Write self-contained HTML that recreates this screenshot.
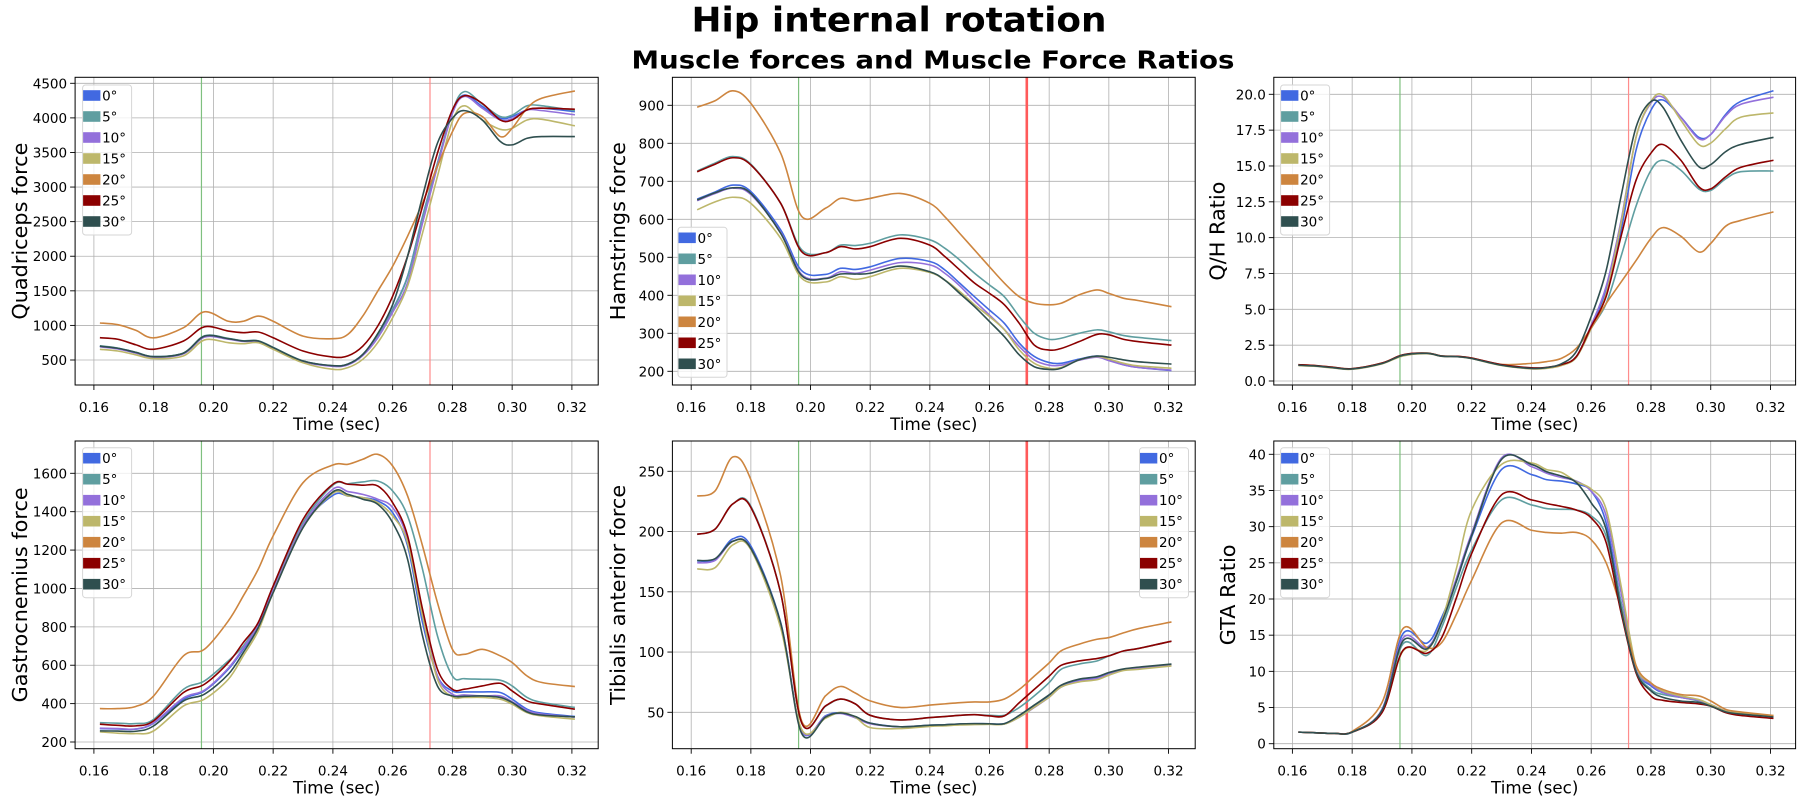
<!DOCTYPE html>
<html><head><meta charset="utf-8"><title>Hip internal rotation</title>
<style>
html,body{margin:0;padding:0;background:#fff;}
svg{display:block;font-family:"DejaVu Sans","Liberation Sans",sans-serif;}
</style></head>
<body>
<svg id="fig" width="1800" height="800" viewBox="0 0 1800 800" xmlns="http://www.w3.org/2000/svg">
<rect x="0" y="0" width="1800" height="800" fill="#fff"/>
<text x="899" y="31.7" text-anchor="middle" font-size="34" font-weight="bold" textLength="415" lengthAdjust="spacingAndGlyphs">Hip internal rotation</text>
<text x="933" y="68.3" text-anchor="middle" font-size="25" font-weight="bold" textLength="603" lengthAdjust="spacingAndGlyphs">Muscle forces and Muscle Force Ratios</text>
</svg>
<script>
const times = [0.162,0.168,0.174,0.18,0.19,0.197,0.205,0.21,0.215,0.22,0.23,0.24,0.245,0.25,0.255,0.26,0.265,0.27,0.275,0.28,0.284,0.29,0.296,0.30,0.305,0.31,0.321];
const seriesLabels = ['0°','5°','10°','15°','20°','25°','30°'];
const xTicks = [0.16,0.18,0.20,0.22,0.24,0.26,0.28,0.30,0.32];
const greenLineTime = 0.196;
const redLineTime = 0.2725;

const quadricepsForce = [
 [700,670,610,548,600,845,808,775,775,680,485,415,440,580,845,1230,1710,2575,3345,4090,4330,4165,3995,4020,4115,4140,4090],
 [705,672,612,550,602,850,812,778,778,683,487,417,440,578,840,1220,1700,2560,3340,4100,4380,4200,4020,4040,4175,4175,4105],
 [690,660,600,540,590,830,800,768,768,672,478,408,430,565,820,1190,1615,2480,3300,4065,4310,4140,3970,3990,4115,4105,4045],
 [655,630,575,520,560,790,750,735,750,655,460,365,390,510,750,1110,1570,2335,3155,3950,4175,3970,3835,3850,3970,3980,3885],
 [1035,1010,930,820,967,1197,1060,1060,1135,1060,845,808,870,1135,1495,1855,2290,2770,3300,3800,4065,4020,3730,3850,4140,4285,4390],
 [822,800,720,655,775,980,918,895,905,822,630,543,560,700,990,1423,2000,2720,3490,4115,4320,4210,3970,3970,4115,4140,4125],
 [700,670,610,548,600,845,808,775,775,680,485,418,440,580,880,1300,2000,2865,3635,3995,4105,3970,3660,3610,3705,3730,3730]
];
const hamstringsForce = [
 [653,672,690,673,572,465,455,471,468,475,497,489,467,432,396,361,326,274,239,223,221,232,240,230,217,210,202],
 [727,748,765,745,642,520,512,532,531,537,559,546,524,493,458,427,396,344,300,284,287,300,309,304,294,289,281],
 [649,668,682,665,565,455,445,462,458,466,486,480,458,425,385,348,310,265,230,216,216,229,237,228,217,210,203],
 [625,646,658,642,550,445,435,449,442,449,471,460,440,410,375,344,309,256,221,208,210,230,239,232,221,214,208],
 [895,912,938,905,774,608,629,655,649,655,668,642,607,563,519,475,432,396,379,375,379,401,414,405,392,386,370],
 [725,745,762,743,642,515,512,528,522,528,550,532,502,467,432,405,375,326,269,256,260,278,297,296,284,278,269],
 [651,670,683,668,563,452,444,456,456,458,477,462,440,405,370,331,291,243,212,205,208,230,240,237,230,225,219]
];
const qhRatio = [
 [1.12,1.05,0.93,0.84,1.23,1.81,1.93,1.74,1.7,1.58,1.12,0.88,0.93,1.12,1.7,3.8,6.35,10.5,16.1,18.9,19.6,18.4,17.0,17.2,18.6,19.5,20.25],
 [1.12,1.05,0.93,0.84,1.23,1.81,1.93,1.74,1.7,1.58,1.12,0.88,0.93,1.12,1.65,3.67,5.4,8.7,12.2,14.7,15.4,14.7,13.4,13.3,14.1,14.6,14.65],
 [1.1,1.03,0.92,0.83,1.22,1.8,1.92,1.73,1.7,1.57,1.1,0.86,0.9,1.1,1.7,3.9,6.6,11.2,17.0,19.4,19.8,18.4,16.9,17.2,18.5,19.3,19.8],
 [1.08,1.02,0.9,0.82,1.2,1.75,1.9,1.72,1.7,1.56,1.08,0.85,0.88,1.08,1.65,3.67,6.1,11.0,17.0,19.5,19.95,18.2,16.5,16.6,17.6,18.4,18.7],
 [1.14,1.07,0.95,0.86,1.25,1.82,1.95,1.75,1.72,1.6,1.16,1.23,1.35,1.58,2.28,3.7,5.4,6.9,8.4,9.95,10.7,10.1,9.0,9.6,10.8,11.2,11.8],
 [1.14,1.07,0.95,0.86,1.25,1.83,1.94,1.74,1.72,1.6,1.14,0.92,0.95,1.14,1.7,3.8,5.9,10.1,14.0,15.9,16.5,15.4,13.55,13.4,14.25,14.9,15.4],
 [1.1,1.04,0.92,0.84,1.22,1.8,1.93,1.73,1.7,1.57,1.1,0.88,0.93,1.2,2.05,4.5,7.7,12.9,17.7,19.5,19.1,16.8,14.95,15.1,16.0,16.5,17.0]
];
const gastrocnemiusForce = [
 [270,268,267,298,423,466,579,683,805,987,1326,1485,1482,1473,1456,1395,1222,822,544,466,461,461,458,423,371,350,333],
 [301,298,296,318,475,518,623,700,822,1005,1343,1538,1545,1555,1560,1508,1378,1100,753,544,530,527,522,492,432,406,380],
 [272,270,268,300,430,470,585,690,808,990,1330,1517,1505,1490,1465,1421,1256,857,544,449,445,440,440,410,365,345,330],
 [253,246,244,258,388,423,527,649,779,978,1317,1496,1482,1473,1447,1378,1239,857,527,435,432,432,423,397,353,336,319],
 [374,374,385,440,649,683,831,961,1100,1274,1551,1643,1647,1673,1699,1638,1482,1222,926,683,657,683,649,614,544,510,489],
 [293,287,284,310,458,501,614,718,822,1013,1360,1543,1543,1538,1534,1447,1274,892,579,475,475,492,506,466,414,397,371],
 [258,257,256,284,414,449,553,666,796,978,1317,1503,1490,1465,1439,1343,1152,753,492,440,438,440,432,406,357,340,331]
];
const tibialisForce = [
 [175.6,177,194,188,124.5,34.6,47,49.5,45.6,41,38,39.3,39.6,40.4,40.6,40.5,40.6,47,55,63.6,72,77,79,82.4,85.7,87,89.6],
 [197.7,202,223,221,149,41.5,55,61,57,47.5,43.7,45.6,46.5,47.5,48,47.5,47.5,54,63.6,74.7,85.7,90,92.6,96.8,101,103,109],
 [174,176,192,186,123,35,46.5,49,45.5,40.5,38,39,39.3,40,40.3,40.2,40.3,46,54,62.5,71,76,78,81.5,85,86.5,89],
 [169,170,189,185,120,36,45,50,46,37.3,36.5,38.3,38.8,39.5,39.8,40,40.2,46,54.3,62.6,71,75.2,77,80.8,84.7,85.7,88.5],
 [229.5,233.7,262,243,163,43,63.6,71.4,66,59.5,54,56,57,58,58.6,58.6,61,69,80,91,101,106.5,110.6,112,116,119.5,125],
 [197.7,202,223,220,149,41.5,55.3,61,57,47.5,43.7,45.6,46.5,47.5,48,47,47,58,69,80,89,92.6,94.6,96.8,101,103,109],
 [176,177.5,192,186,124,32.6,46,49.5,46.5,41,38,39.3,39.6,40.4,40.6,40.5,40.6,47.5,56,64.5,72.5,77.5,79.5,83,86,87.5,90]
];
const gtaRatio = [
 [1.6,1.5,1.43,1.6,4.75,15.2,13.9,17.5,22.6,28.6,37.9,37.2,36.5,36.3,35.9,34.9,30.5,19.5,10.3,8.0,7.05,6.4,6.0,5.4,4.5,4.2,3.8],
 [1.6,1.5,1.43,1.6,4.6,13.8,12.2,16.1,21.7,26.8,33.7,33.0,32.5,32.4,32.3,31.5,28.7,19.5,10.3,7.5,6.8,6.4,5.9,5.4,4.5,4.2,3.8],
 [1.6,1.5,1.43,1.6,4.7,14.6,13.3,17.0,23.0,29.1,39.5,38.3,37.4,36.8,36.3,34.9,31.5,20.9,10.6,8.2,7.1,6.4,6.0,5.4,4.5,4.2,3.8],
 [1.6,1.5,1.43,1.6,4.4,12.8,12.9,17.0,24.4,32.3,38.6,38.8,37.9,37.5,36.2,35.2,32.4,21.8,10.8,8.4,7.3,6.6,6.1,5.4,4.5,4.2,3.8],
 [1.6,1.5,1.43,1.7,5.7,15.9,13.3,14.0,18.0,22.6,30.5,29.5,29.2,29.1,29.2,28.2,25.0,18.6,10.8,8.4,7.5,6.8,6.6,5.9,4.75,4.4,3.9],
 [1.6,1.5,1.43,1.6,4.3,12.9,12.5,14.7,20.3,26.3,34.4,33.7,33.2,32.8,32.3,31.2,27.8,18.1,9.8,6.6,6.0,5.7,5.5,5.2,4.3,3.9,3.5],
 [1.6,1.5,1.43,1.6,4.6,14.2,13.1,16.8,22.6,28.8,39.3,38.6,37.6,37.0,36.1,33.3,29.6,18.6,10.0,7.3,6.4,5.9,5.7,5.2,4.4,4.1,3.7]
];
const quadTicks = [500,1000,1500,2000,2500,3000,3500,4000,4500];
const hamTicks = [200,300,400,500,600,700,800,900];
const qhTicks = [0,2.5,5,7.5,10,12.5,15,17.5,20];
const gasTicks = [200,400,600,800,1000,1200,1400,1600];
const tibTicks = [50,100,150,200,250];
const gtaTicks = [0,5,10,15,20,25,30,35,40];

const colors = ['#4169e1','#5f9ea0','#9370db','#bdb76b','#cd853f','#8b0000','#2f4f4f'];
const NS = 'http://www.w3.org/2000/svg';
const svg = document.getElementById('fig');
function mk(tag, attrs, parent){
  const e = document.createElementNS(NS, tag);
  for (const k in attrs) e.setAttribute(k, attrs[k]);
  (parent||svg).appendChild(e);
  return e;
}
const cols = [
 {left:75.1,right:598.2,x0:93.9,x1:571.9},
 {left:672.4,right:1195.2,x0:691.2,x1:1168.5},
 {left:1273.8,right:1795.6,x0:1292.4,x1:1770.5}
];
const rows = [{top:77.3,bottom:385},{top:441,bottom:748.7}];
const plots = [
 {id:'quadriceps',col:0,row:0,data:quadricepsForce,ticks:quadTicks,yA:[4500,83.3],yB:[500,360],fmt:v=>String(v),label:'Quadriceps force',labelX:20,legend:[82.6,85],redStrong:false},
 {id:'hamstrings',col:1,row:0,data:hamstringsForce,ticks:hamTicks,yA:[900,105.3],yB:[200,371.3],fmt:v=>String(v),label:'Hamstrings force',labelX:618,legend:[678,227.3],redStrong:true},
 {id:'qh-ratio',col:2,row:0,data:qhRatio,ticks:qhTicks,yA:[20,94.3],yB:[0,381],fmt:v=>v.toFixed(1),label:'Q/H Ratio',labelX:1217.5,legend:[1280.6,85],redStrong:false},
 {id:'gastrocnemius',col:0,row:1,data:gastrocnemiusForce,ticks:gasTicks,yA:[1600,473.3],yB:[200,742],fmt:v=>String(v),label:'Gastrocnemius force',labelX:20,legend:[82.6,447.7],redStrong:false},
 {id:'tibialis',col:1,row:1,data:tibialisForce,ticks:tibTicks,yA:[250,471.3],yB:[50,712.3],fmt:v=>String(v),label:'Tibialis anterior force',labelX:618,legend:[1139.5,447.7],redStrong:true},
 {id:'gta-ratio',col:2,row:1,data:gtaRatio,ticks:gtaTicks,yA:[40,454.3],yB:[0,743.7],fmt:v=>String(v),label:'GTA Ratio',labelX:1228,legend:[1280.6,447.7],redStrong:false}
];
function smoothPath(pts){
  let d = 'M'+pts[0][0].toFixed(2)+','+pts[0][1].toFixed(2);
  for (let i=0;i<pts.length-1;i++){
    const p0=pts[Math.max(0,i-1)], p1=pts[i], p2=pts[i+1], p3=pts[Math.min(pts.length-1,i+2)];
    const c1x=p1[0]+(p2[0]-p0[0])/6, c1y=p1[1]+(p2[1]-p0[1])/6;
    const c2x=p2[0]-(p3[0]-p1[0])/6, c2y=p2[1]-(p3[1]-p1[1])/6;
    d += ' C'+c1x.toFixed(2)+','+c1y.toFixed(2)+' '+c2x.toFixed(2)+','+c2y.toFixed(2)+' '+p2[0].toFixed(2)+','+p2[1].toFixed(2);
  }
  return d;
}
const defs = mk('defs',{});
plots.forEach((p,pi)=>{
  const c = cols[p.col], r = rows[p.row];
  const xs = t => c.x0 + (t-0.16)/(0.32-0.16)*(c.x1-c.x0);
  const ys = v => p.yA[1] + (v-p.yA[0])/(p.yB[0]-p.yA[0])*(p.yB[1]-p.yA[1]);
  const g = mk('g',{});
  
  
  const cp = mk('clipPath',{id:'clip'+pi},defs);
  mk('rect',{x:c.left,y:r.top,width:c.right-c.left,height:r.bottom-r.top},cp);
  const grid = mk('g',{stroke:'#b0b0b0','stroke-width':0.8},g);
  
  
  xTicks.forEach(t=>{ mk('line',{x1:xs(t),x2:xs(t),y1:r.top,y2:r.bottom},grid); });
  p.ticks.forEach(v=>{ mk('line',{x1:c.left,x2:c.right,y1:ys(v),y2:ys(v)},grid); });
  const gl = mk('line',{x1:xs(greenLineTime),x2:xs(greenLineTime),y1:r.top,y2:r.bottom,stroke:'#7fc07f','stroke-width':1.2},g);
  
  
  const rl = mk('line',{x1:xs(redLineTime),x2:xs(redLineTime),y1:r.top,y2:r.bottom,stroke:p.redStrong?'#ff5a5a':'#ff8c8c','stroke-width':p.redStrong?2.6:1.2},g);
  
  
  const lg = mk('g',{'clip-path':'url(#clip'+pi+')',fill:'none','stroke-width':1.6,'stroke-linejoin':'round'},g);
  p.data.forEach((vals,si)=>{
    const pts = vals.map((v,i)=>[xs(times[i]), ys(v)]);
    const path = mk('path',{d:smoothPath(pts),stroke:colors[si]},lg);
    
    
  });
  const sp = mk('rect',{x:c.left,y:r.top,width:c.right-c.left,height:r.bottom-r.top,fill:'none',stroke:'#000','stroke-width':1},g);
  
  
  xTicks.forEach(t=>{
    mk('line',{x1:xs(t),x2:xs(t),y1:r.bottom,y2:r.bottom+5,stroke:'#000','stroke-width':0.9},g);
    const tx = mk('text',{x:xs(t),y:r.bottom+27,'text-anchor':'middle','font-size':13.5,fill:'#000'},g);
    tx.textContent = t.toFixed(2);
    
    
  });
  p.ticks.forEach(v=>{
    mk('line',{x1:c.left-5,x2:c.left,y1:ys(v),y2:ys(v),stroke:'#000','stroke-width':0.9},g);
    const ty = mk('text',{x:c.left-8,y:ys(v)+5,'text-anchor':'end','font-size':13.5,fill:'#000'},g);
    ty.textContent = p.fmt(v);
    
    
  });
  const xl = mk('text',{x:(c.left+c.right)/2,y:r.bottom+45,'text-anchor':'middle','font-size':16.7,fill:'#000'},g);
  xl.textContent = 'Time (sec)';
  
  
  const cy = (r.top+r.bottom)/2;
  const yl = mk('text',{x:p.labelX,y:cy,'text-anchor':'middle','dominant-baseline':'central','font-size':20.8,fill:'#000',transform:'rotate(-90 '+p.labelX+' '+cy+')'},g);
  yl.textContent = p.label;
  
  
  const L = mk('g',{},g);
  
  
  const lx = p.legend[0], ly = p.legend[1];
  mk('rect',{x:lx,y:ly,width:49,height:150,rx:3,fill:'#fff','fill-opacity':0.8,stroke:'#d6d6d6','stroke-width':1},L);
  seriesLabels.forEach((s,si)=>{
    const yc = ly + 10.5 + si*21;
    const e = mk('g',{},L);
    
    
    mk('rect',{x:lx+0.5,y:yc-5.3,width:17.3,height:10.6,fill:colors[si]},e);
    const t = mk('text',{x:lx+19.5,y:yc+5,'font-size':13.5,fill:'#000'},e);
    t.textContent = s;
  });
});
</script>
</body></html>
